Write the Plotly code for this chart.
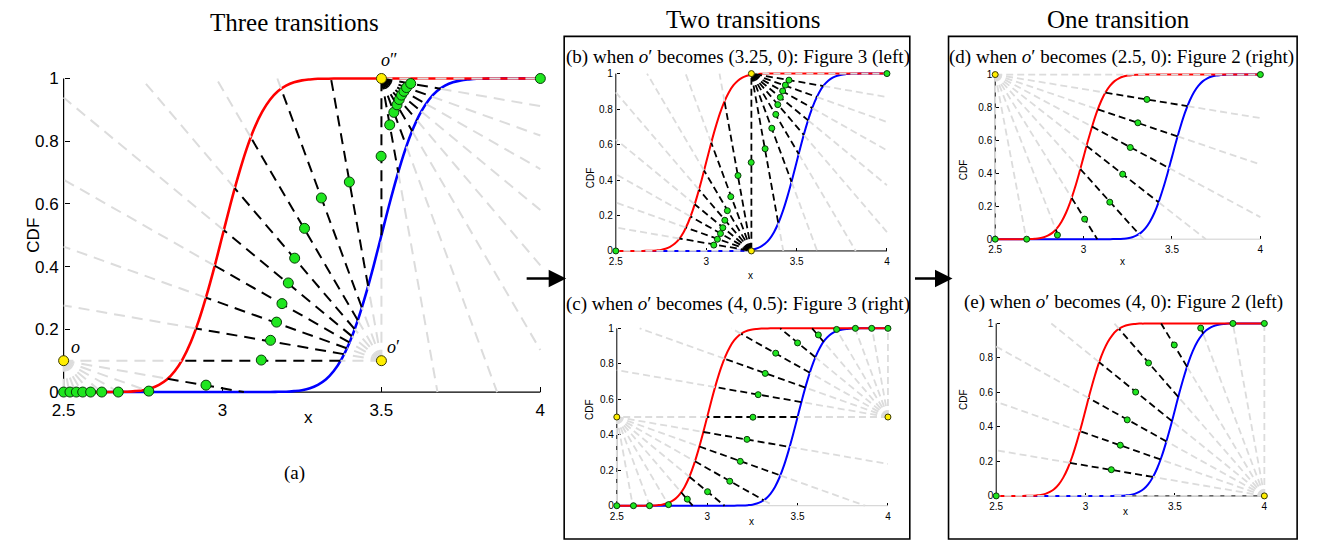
import numpy as np
import plotly.graph_objects as go

W, H = 1317, 546
X_MIN, X_MAX, Y_MIN, Y_MAX = 2.5, 4.0, 0.0, 1.0

# ---------------- data ----------------
# shape of both CDFs (same spread), given as offsets from each curve's centre
cdf_offsets = [-0.35, -0.325, -0.3, -0.275, -0.25, -0.225, -0.2, -0.175, -0.15, -0.125,
               -0.1, -0.075, -0.05, -0.025, 0.0, 0.025, 0.05, 0.075, 0.1, 0.125,
               0.15, 0.175, 0.2, 0.225, 0.25, 0.275, 0.3, 0.325, 0.35]
cdf_values = [0.000, 0.001, 0.001, 0.003, 0.006, 0.012, 0.023, 0.040, 0.067, 0.106,
              0.159, 0.227, 0.309, 0.401, 0.500, 0.599, 0.691, 0.773, 0.841, 0.894,
              0.933, 0.960, 0.977, 0.988, 0.994, 0.997, 0.999, 0.999, 1.000]
red_centre = 3.0
blue_centre = 3.5

x_ticks = [2.5, 3, 3.5, 4]
x_tick_labels = ["2.5", "3", "3.5", "4"]
y_ticks = [0, 0.2, 0.4, 0.6, 0.8, 1]
y_tick_labels = ["0", "0.2", "0.4", "0.6", "0.8", "1"]

# ray directions (degrees) drawn from each centre point
rays_down_right = [0, -10, -20, -30, -40, -50, -60, -70, -80, -90]
rays_down_right_no_vertical = [0, -10, -20, -30, -40, -50, -60, -70, -80]
rays_down_right_no_horizontal = [-10, -20, -30, -40, -50, -60, -70, -80, -90]
rays_up_left = [90, 100, 110, 120, 130, 140, 150, 160, 170, 180]

# (a) three transitions
a_center_x = [2.5, 3.5, 3.5]
a_center_y = [0.1, 0.1, 1.0]
a_center_names = ["<i>o</i>", "<i>o</i>′", "<i>o</i>″"]
a_ray_sets = [rays_down_right_no_horizontal, rays_up_left, rays_down_right_no_vertical]
a_green_x = [2.5, 2.52, 2.54, 2.56, 2.585, 2.62, 2.672, 2.768, 2.948,
             3.122, 3.151, 3.170, 3.187, 3.207, 3.227, 3.258, 3.311, 3.399, 3.499,
             3.526, 3.539, 3.549, 3.556, 3.563, 3.571, 3.579, 3.592, 4.0]
a_green_y = [0, 0, 0, 0, 0, 0, 0, 0.003, 0.022,
             0.102, 0.165, 0.223, 0.282, 0.348, 0.427, 0.522, 0.619, 0.670, 0.752,
             0.852, 0.892, 0.916, 0.933, 0.947, 0.959, 0.971, 0.984, 1.0]

# (b) o' = (3.25, 0)
b_center_x = [3.25, 3.25]
b_center_y = [0.0, 1.0]
b_ray_sets = [rays_up_left, rays_down_right_no_vertical]
b_green_x = [2.5, 3.042, 3.062, 3.079, 3.092, 3.103, 3.117, 3.136, 3.176, 3.249,
             3.326, 3.363, 3.385, 3.396, 3.410, 3.423, 3.438, 3.458, 4.0]
b_green_y = [0, 0.033, 0.066, 0.098, 0.131, 0.173, 0.227, 0.306, 0.425, 0.499,
             0.576, 0.692, 0.770, 0.825, 0.866, 0.902, 0.935, 0.963, 1.0]

# (c) o' = (4, 0.5)
c_center_x = [2.5, 4.0]
c_center_y = [0.5, 0.5]
c_ray_sets = [rays_down_right_no_horizontal, rays_up_left]
c_green_x = [2.5, 2.592, 2.681, 2.786, 2.890, 3.002, 3.125, 3.183, 3.220, 3.253,
             3.282, 3.321, 3.379, 3.500, 3.615, 3.716, 3.820, 3.910, 4.0]
c_green_y = [0.0, 0.0, 0.0, 0.006, 0.037, 0.079, 0.138, 0.250, 0.374, 0.499,
             0.626, 0.746, 0.860, 0.918, 0.963, 0.994, 1.0, 1.0, 1.0]

# (d) o' at the top-left corner
d_center_x = [2.5]
d_center_y = [1.0]
d_ray_sets = [rays_down_right]
d_green_x = [2.5, 2.678, 2.852, 3.006, 3.148, 3.221, 3.264, 3.307, 3.358, 4.0]
d_green_y = [0, 0, 0.025, 0.122, 0.225, 0.395, 0.557, 0.707, 0.849, 1.0]

# (e) o' = (4, 0)
e_center_x = [4.0]
e_center_y = [0.0]
e_ray_sets = [rays_up_left]
e_green_x = [2.5, 3.144, 3.194, 3.233, 3.280, 3.352, 3.496, 3.644, 3.824, 4.0]
e_green_y = [0, 0.152, 0.294, 0.441, 0.602, 0.771, 0.875, 0.973, 1.0, 1.0]

# ---------------- curves ----------------
red_x = [X_MIN] + [red_centre + o for o in cdf_offsets] + [X_MAX]
red_y = [0.0] + cdf_values + [1.0]
blue_x = [X_MIN] + [blue_centre + o for o in cdf_offsets] + [X_MAX]
blue_y = [0.0] + cdf_values + [1.0]


def ray_segments(cx, cy, ang_deg):
    a = np.deg2rad(ang_deg)
    dx, dy = np.cos(a), np.sin(a)
    if abs(dx) < 1e-12:
        dx = 0.0
    if abs(dy) < 1e-12:
        dy = 0.0
    ts = []
    if dx > 0:
        ts.append((X_MAX - cx) / dx)
    if dx < 0:
        ts.append((X_MIN - cx) / dx)
    if dy > 0:
        ts.append((Y_MAX - cy) / dy)
    if dy < 0:
        ts.append((Y_MIN - cy) / dy)
    tmax = min(ts)
    if tmax <= 0:
        return []
    t = np.linspace(0, tmax, 1501)
    x = cx + dx * t
    y = cy + dy * t
    r = np.interp(x, red_x, red_y)
    b = np.interp(x, blue_x, blue_y)
    inside = (y > b + 1e-6) & (y < r - 1e-6)
    cuts = np.flatnonzero(np.diff(inside.astype(int))) + 1
    starts = np.r_[0, cuts]
    ends = np.r_[cuts, len(t) - 1]
    segs = []
    for s, e in zip(starts, ends):
        if e <= s:
            continue
        segs.append((bool(inside[s]), x[s], y[s], x[e], y[e]))
    return segs


def px_x(px):
    return px / W


def px_y(py):
    return 1 - py / H


SERIF = "Liberation Serif"
SANS = "Liberation Sans"
GRAY = "#dcdcdc"

panels = [
    dict(box=(56, 536, 395, 75), big=True, cx=a_center_x, cy=a_center_y, rays=a_ray_sets,
         gx=a_green_x, gy=a_green_y, xline="black", names=a_center_names,
         cdf=(14, 235), xl=(296, 433)),
    dict(box=(612, 885, 251, 70), big=False, cx=b_center_x, cy=b_center_y, rays=b_ray_sets,
         gx=b_green_x, gy=b_green_y, xline="black", names=None,
         cdf=(586, 163), xl=(748, 276)),
    dict(box=(613, 886, 511, 330), big=False, cx=c_center_x, cy=c_center_y, rays=c_ray_sets,
         gx=c_green_x, gy=c_green_y, xline="#cfcfcf", names=None,
         cdf=(586, 425), xl=(749, 535)),
    dict(box=(994, 1261, 239, 71), big=False, cx=d_center_x, cy=d_center_y, rays=d_ray_sets,
         gx=d_green_x, gy=d_green_y, xline="#cfcfcf", names=None,
         cdf=(970, 155), xl=(1127, 262)),
    dict(box=(995, 1265, 501, 325), big=False, cx=e_center_x, cy=e_center_y, rays=e_ray_sets,
         gx=e_green_x, gy=e_green_y, xline="black", names=None,
         cdf=(969, 415), xl=(1130, 525)),
]

fig = go.Figure()
layout = dict(width=W, height=H, margin=dict(l=0, r=0, t=0, b=0),
              paper_bgcolor="white", plot_bgcolor="rgba(0,0,0,0)", showlegend=False)
annotations = []
PAD = 0.012

for i, p in enumerate(panels, start=1):
    x0, x1, y0, y1 = p["box"]
    big = p["big"]
    sx = (x1 - x0) / (X_MAX - X_MIN)
    sy = (y0 - y1) / (Y_MAX - Y_MIN)
    xa = "x" if i == 1 else f"x{i}"
    ya = "y" if i == 1 else f"y{i}"
    tick_font = dict(family=SANS, size=17 if big else 10, color="black")
    layout["xaxis" if i == 1 else f"xaxis{i}"] = dict(
        domain=[(x0 - PAD * sx) / W, (x1 + PAD * sx) / W],
        range=[X_MIN - PAD, X_MAX + PAD], anchor="free", position=px_y(y0),
        showgrid=False, zeroline=False, showline=False,
        ticks="inside", ticklen=5 if big else 3, tickwidth=1, tickcolor="black",
        tickvals=x_ticks, ticktext=x_tick_labels, tickfont=tick_font,
        ticklabelstandoff=6 if big else 3,
        layer="below traces", fixedrange=True)
    layout["yaxis" if i == 1 else f"yaxis{i}"] = dict(
        domain=[1 - (y0 + PAD * sy) / H, 1 - (y1 - PAD * sy) / H],
        range=[Y_MIN - PAD, Y_MAX + PAD], anchor="free", position=px_x(x0),
        showgrid=False, zeroline=False, showline=False,
        ticks="inside", ticklen=5 if big else 3, tickwidth=1, tickcolor="black",
        tickvals=y_ticks, ticktext=y_tick_labels, tickfont=tick_font,
        ticklabelstandoff=5 if big else 3,
        layer="below traces", fixedrange=True)

    aw = 1.2 if big else 1.0
    # axis lines
    fig.add_trace(go.Scatter(x=[X_MIN, X_MAX], y=[Y_MIN, Y_MIN], mode="lines",
                             line=dict(color=p["xline"], width=aw), xaxis=xa, yaxis=ya, hoverinfo="skip"))
    fig.add_trace(go.Scatter(x=[X_MIN, X_MIN], y=[Y_MIN, Y_MAX], mode="lines",
                             line=dict(color="black", width=aw), xaxis=xa, yaxis=ya, hoverinfo="skip"))

    cw = 2.6 if big else 2.0
    fig.add_trace(go.Scatter(x=blue_x, y=blue_y, mode="lines", line=dict(color="#0000ff", width=cw, shape="spline"),
                             xaxis=xa, yaxis=ya, hoverinfo="skip"))
    fig.add_trace(go.Scatter(x=red_x, y=red_y, mode="lines", line=dict(color="#ff0000", width=cw, shape="spline"),
                             xaxis=xa, yaxis=ya, hoverinfo="skip"))

    gxs, gys, bxs, bys = [], [], [], []
    for cx, cy, angs in zip(p["cx"], p["cy"], p["rays"]):
        for ang in angs:
            for inside, xs, ys, xe, ye in ray_segments(cx, cy, ang):
                if inside:
                    bxs += [xs, xe, None]
                    bys += [ys, ye, None]
                else:
                    gxs += [xs, xe, None]
                    gys += [ys, ye, None]
    dash = "11px,7px" if big else "7px,4px"
    lw = 2.0 if big else 1.8
    fig.add_trace(go.Scatter(x=gxs, y=gys, mode="lines", line=dict(color=GRAY, width=lw, dash=dash),
                             connectgaps=False, xaxis=xa, yaxis=ya, hoverinfo="skip"))
    fig.add_trace(go.Scatter(x=bxs, y=bys, mode="lines", line=dict(color="black", width=lw, dash=dash),
                             connectgaps=False, xaxis=xa, yaxis=ya, hoverinfo="skip"))

    ms = 10 if big else 6
    fig.add_trace(go.Scatter(x=p["gx"], y=p["gy"], mode="markers",
                             marker=dict(color="#1fe61f", size=ms, line=dict(color="#0a3a0a", width=1)),
                             cliponaxis=False, xaxis=xa, yaxis=ya, hoverinfo="skip"))
    fig.add_trace(go.Scatter(x=p["cx"], y=p["cy"], mode="markers",
                             marker=dict(color="#ffee00", size=ms, line=dict(color="#3a3a00", width=1)),
                             cliponaxis=False, xaxis=xa, yaxis=ya, hoverinfo="skip"))

    if p["names"]:
        for cx, cy, nm in zip(p["cx"], p["cy"], p["names"]):
            annotations.append(dict(x=cx, y=cy, xref=xa, yref=ya, text=nm, showarrow=False,
                                    xshift=12 if cy < 0.5 else 8, yshift=14 if cy < 0.5 else 18,
                                    font=dict(family=SERIF, size=18, color="black")))

    fs = 17 if big else 10
    annotations.append(dict(x=px_x(p["cdf"][0]), y=px_y(p["cdf"][1]), xref="paper", yref="paper",
                            text="CDF", textangle=-90, showarrow=False,
                            font=dict(family=SANS, size=fs, color="black")))
    annotations.append(dict(x=px_x(p["xl"][0]), y=px_y(p["xl"][1]), xref="paper", yref="paper",
                            text="x", showarrow=False, font=dict(family=SANS, size=fs, color="black")))

texts = [
    ("Three transitions", 288, 18, 25),
    ("Two transitions", 741, 15, 25),
    ("One transition", 1118, 15, 25),
    ("(b) when <i>o</i>′ becomes (3.25, 0): Figure 3 (left)", 735, 53, 19),
    ("(c) when <i>o</i>′ becomes (4, 0.5): Figure 3 (right)", 735, 305, 19),
    ("(d) when <i>o</i>′ becomes (2.5, 0): Figure 2 (right)", 1121, 53, 19),
    ("(e) when <i>o</i>′ becomes (4, 0): Figure 2 (left)", 1123, 303, 19),
    ("(a)", 288, 478, 19),
]
for t, px, py, fsz in texts:
    annotations.append(dict(x=px_x(px), y=px_y(py), xref="paper", yref="paper", text=t,
                            showarrow=False, xanchor="center", yanchor="middle",
                            font=dict(family=SERIF, size=fsz, color="black")))

for tip, tail, yy in [(562, 521, 279), (951, 912, 279)]:
    annotations.append(dict(x=px_x(tip), y=px_y(yy), xref="paper", yref="paper", text="",
                            showarrow=True, ax=tail - tip, ay=0, arrowhead=2, arrowsize=1.4,
                            arrowwidth=2.5, arrowcolor="black", standoff=0))

shapes = [
    dict(type="rect", xref="paper", yref="paper", x0=px_x(560), x1=px_x(908), y0=px_y(545), y1=px_y(32),
         line=dict(color="black", width=1.6)),
    dict(type="rect", xref="paper", yref="paper", x0=px_x(947), x1=px_x(1298), y0=px_y(545), y1=px_y(32),
         line=dict(color="black", width=1.6)),
]

layout["annotations"] = annotations
layout["shapes"] = shapes
fig.update_layout(**layout)
fig.write_html("out.html")
